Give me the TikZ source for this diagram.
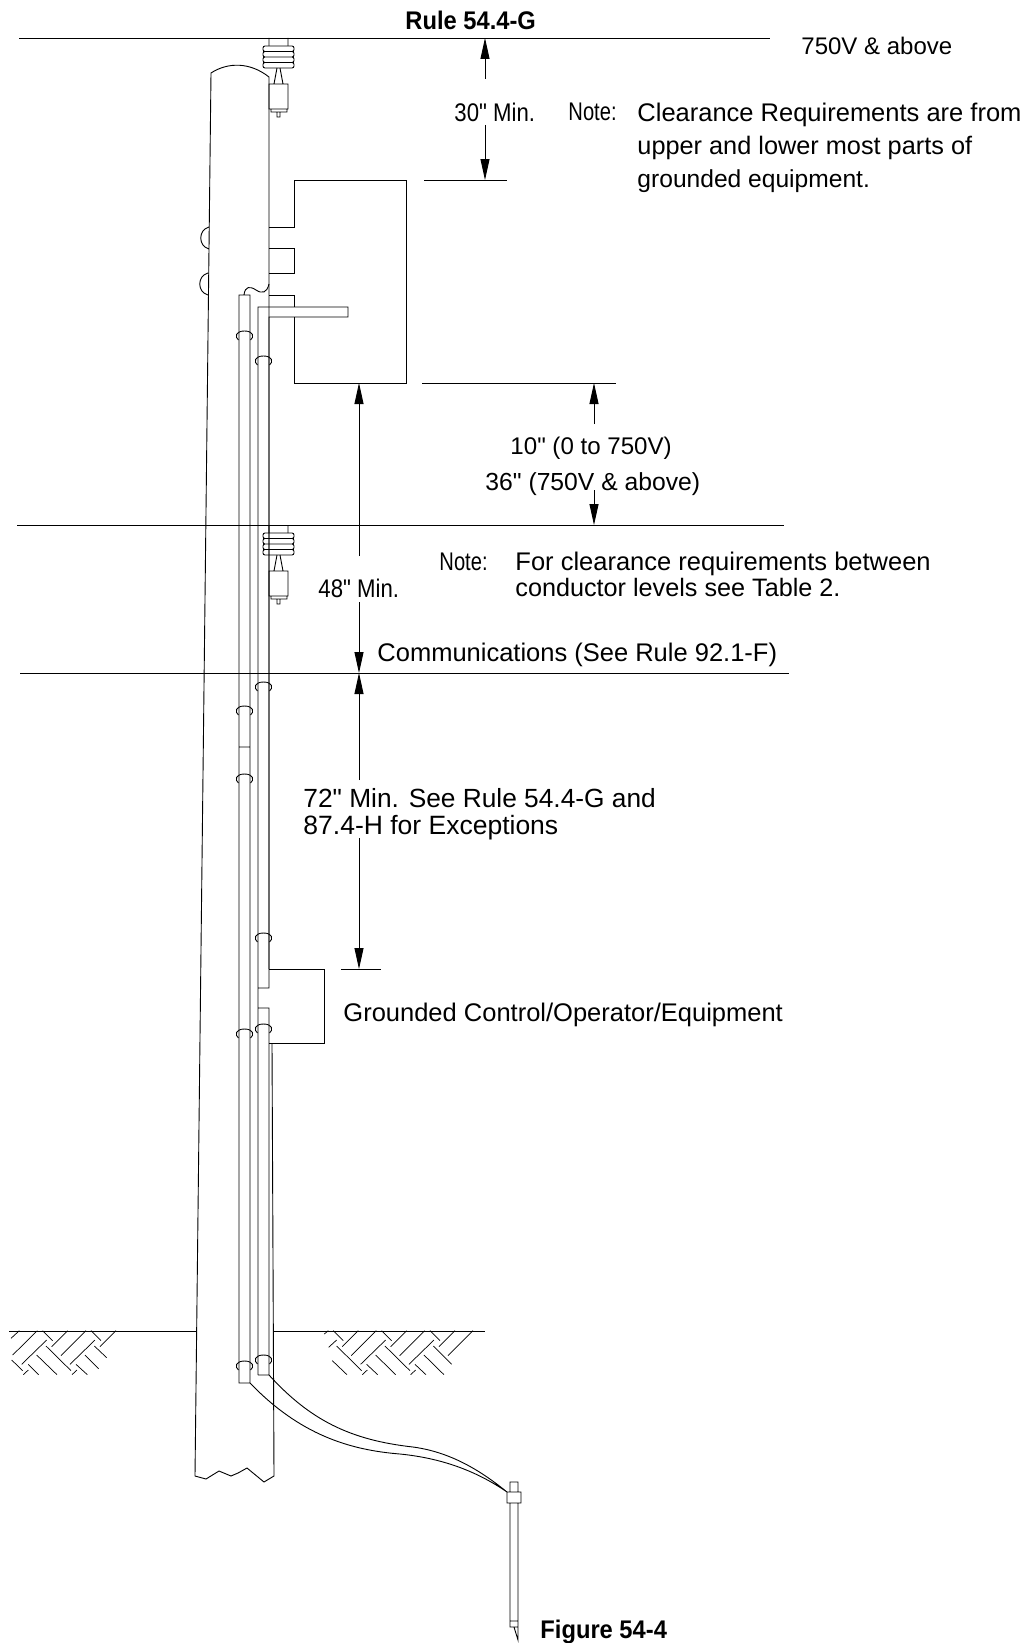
\documentclass[tikz,border=0pt]{standalone}
\usepackage{fontspec}
\setsansfont[Ligatures=TeXOff]{Liberation Sans}
\newfontfamily\narrowfont[FakeStretch=0.87]{Liberation Sans}
\newfontfamily\notefont[FakeStretch=0.79]{Liberation Sans}
\newfontfamily\titlefont[FakeStretch=0.93]{Liberation Sans}
\usetikzlibrary{arrows.meta}

\begin{document}
\begin{tikzpicture}[
        %Environment config
        x=1pt,y=-1pt,
        font=\sffamily,
        line width=.9pt,
        %Environment styles
        LabelCfg/.style={
            anchor=west,
            inner sep=0pt,
            text height=18pt,
            text depth=0pt,
            font=\fontsize{#1pt}{27pt}\sffamily
        },
        LabelCfg/.default=25.5,
        NarrowCfg/.style={
            LabelCfg,
            font=\fontsize{25.5pt}{27pt}\narrowfont
        },
        NoteCfg/.style={
            LabelCfg,
            font=\fontsize{25.5pt}{27pt}\notefont
        },
        BoldCfg/.style={
            LabelCfg,
            font=\fontsize{25.5pt}{27pt}\titlefont\bfseries
        },
        DimCfg/.style={
            -{Triangle[length=21pt,width=9pt]}
        },
        pics/StrapCfg/.style={code={
            \draw (-6,9) .. controls (-10,6) and (-9,0) .. (0,0)
                .. controls (9,0) and (10,6) .. (6,9);
        }},
        pics/InsulatorCfg/.style={code={
            \draw[rounded corners=2pt]
                (-6,8) rectangle (25,13.5)
                (-6,13.5) rectangle (25,19)
                (-6,19) rectangle (25,24.5)
                (-6,24.5) rectangle (25,30);
            \draw
                (0,0) -- (0,8)
                (19,0) -- (19,8)
                (5,46) -- (8,30)
                (11,30) -- (14,46)
                (0,46) rectangle (19,71)
                (2,71) -- (2,74) -- (18,74) -- (18,71)
                (8,74) rectangle (11,79);
        }}
    ]
    %Labels
    \path
        (405,21) node[BoldCfg](RuleLbl){Rule 54.4-G}
        (801,46) node[LabelCfg=24](TopLbl){750V \& above}
        (454,113) node[NarrowCfg](ThirtyLbl){30" Min.}
        (568,112) node[NoteCfg](NoteOneLbl){Note:}
        (637,113) node[LabelCfg](ClearOneLbl){Clearance Requirements are from}
        (637,145) node[LabelCfg=25.3](ClearTwoLbl){upper and lower most parts of}
        (637,178) node[LabelCfg=24.6](ClearThreeLbl){grounded equipment.}
        (510,445) node[LabelCfg=24.1](TenLbl){10" (0 to 750V)}
        (485,481) node[LabelCfg=24.7](ThirtySixLbl){36" (750V \& above)}
        (439,561) node[NoteCfg](NoteTwoLbl){Note:}
        (515,561) node[LabelCfg](ForOneLbl){For clearance requirements between}
        (515,587) node[LabelCfg=25.2](ForTwoLbl){conductor levels see Table 2.}
        (318,588) node[NarrowCfg](FortyEightLbl){48" Min.}
        (377,652) node[LabelCfg](CommLbl){Communications (See Rule 92.1-F)}
        (303,798) node[LabelCfg=26.3](SeventyOneLbl){72" Min. See Rule 54.4-G and}
        (303,825) node[LabelCfg=26.5](SeventyTwoLbl){87.4-H for Exceptions}
        (343,1012) node[LabelCfg](ControlLbl){Grounded Control/Operator/Equipment}
        (540,1629) node[BoldCfg](FigLbl){Figure 54-4};

    %Conductor levels and ticks
    \draw
        (19,38) coordinate (TopL) -- (770,38)
        (17,525) coordinate (MidL) -- (784,525)
        (20,673) coordinate (ComL) -- (789,673)
        (424,180) coordinate (BoxTopL) -- (507,180)
        (422,383) coordinate (BoxBotL) -- (616,383)
        (341,969) coordinate (CtrlL) -- (381,969);

    %Dimension arrows
    \path
        (485,79) coordinate (DimA)
        (485,125) coordinate (DimB)
        (594,424) coordinate (DimC)
        (594,490) coordinate (DimD)
        (359,556) coordinate (DimE)
        (359,602) coordinate (DimF)
        (359,780) coordinate (DimG)
        (359,838) coordinate (DimH);
    \draw[DimCfg] (DimA) -- (DimA |- TopL);
    \draw[DimCfg] (DimB) -- (DimB |- BoxTopL);
    \draw[DimCfg] (DimC) -- (DimC |- BoxBotL);
    \draw[DimCfg] (DimD) -- (DimD |- MidL);
    \draw[DimCfg] (DimE) -- (DimE |- BoxBotL);
    \draw[DimCfg] (DimF) -- (DimF |- ComL);
    \draw[DimCfg] (DimG) -- (DimG |- ComL);
    \draw[DimCfg] (DimH) -- (DimH |- CtrlL);

    %Pole
    \draw
        (269,77) .. controls (250,62) and (228,62) .. (211,73)
        -- (195,1476) -- (206,1479) -- (219,1471) -- (231,1476)
        -- (238,1473) -- (247,1468) -- (264,1482) -- (274,1476)
        -- (272,1043)
        (269,77) -- (269,969)
        (209,227) .. controls (198,230) and (198,246) .. (209,249)
        (208,273) .. controls (197,276) and (197,292) .. (208,295);

    %Equipment box
    \draw
        (269,227) -- (294,227) -- (294,180) -- (406,180) -- (406,383)
        -- (294,383) -- (294,317)
        (269,248) -- (294,248) -- (294,273) -- (269,273)
        (269,295) -- (294,295) -- (294,307);

    %Control box
    \draw
        (269,969) -- (324,969) -- (324,1043) -- (269,1043);

    %Conduits
    \draw
        (239,1383) -- (239,295) -- (250,295) -- (250,1383) -- cycle
        (239,747) -- (250,747)
        (258,1375) -- (258,307) -- (348,307) -- (348,317) -- (269,317)
        -- (269,988) -- (258,988)
        (258,1008) -- (269,1008) -- (269,1375) -- (258,1375)
        (244,295) .. controls (245,286) and (250,286) .. (256,290)
        .. controls (262,294) and (267,293) .. (269,284);

    %Straps
    \path
        (244.5,331) pic{StrapCfg}
        (244.5,706) pic{StrapCfg}
        (244.5,774) pic{StrapCfg}
        (244.5,1029) pic{StrapCfg}
        (244.5,1361) pic{StrapCfg}
        (263.5,356) pic{StrapCfg}
        (263.5,682) pic{StrapCfg}
        (263.5,933) pic{StrapCfg}
        (263.5,1024) pic{StrapCfg}
        (263.5,1355) pic{StrapCfg};

    %Insulators
    \path
        (269,38) pic{InsulatorCfg}
        (269,525) pic{InsulatorCfg};

    %Ground
    \draw
        (9,1331) -- (197,1331)
        (273,1331) -- (485,1331);
    \begin{scope}[shift={(0,1310)},x=.3333pt,y=-.3333pt,line width=.7pt]
        \draw
            (33,85) -- (58,62) (38,135) -- (112,62) (128,62) -- (158,92)
            (155,110) -- (203,62) (183,137) -- (258,62) (273,62) -- (303,92)
            (300,110) -- (348,62) (65,163) -- (140,90) (138,108) -- (213,182)
            (210,163) -- (285,90) (283,108) -- (320,143) (35,150) -- (68,182)
            (70,194) -- (85,180) (85,163) -- (116,194) (110,135) -- (171,194)
            (216,194) -- (231,180) (228,163) -- (262,194) (255,135) -- (296,176);
        \draw
            (973,72) -- (985,62) (1000,62) -- (1030,92) (1027,110) -- (1075,62)
            (1054,137) -- (1129,62) (1145,62) -- (1175,92) (1172,110) -- (1220,62)
            (1199,137) -- (1274,62) (1290,62) -- (1320,92) (1317,110) -- (1365,62)
            (1344,137) -- (1419,62) (986,112) -- (1010,90) (1010,108) -- (1085,182)
            (1082,163) -- (1157,90) (1155,108) -- (1230,182) (1227,163) -- (1302,90)
            (1300,108) -- (1355,163) (997,152) -- (1041,194) (1087,194) -- (1102,180)
            (1100,163) -- (1133,194) (1127,135) -- (1187,194) (1232,194) -- (1247,180)
            (1245,163) -- (1278,194) (1272,135) -- (1332,194);
    \end{scope}

    %Ground rod and wires
    \draw
        (510,1492) -- (510,1482) -- (518,1482) -- (518,1492)
        (507,1492) rectangle (521,1503)
        (510,1503) -- (510,1627) -- (518,1627) -- (518,1503)
        (510,1621) -- (518,1621)
        (514,1627) -- (518,1640) -- (518,1627)
        (250,1383) .. controls (300,1435) and (350,1450) .. (400,1454)
        .. controls (440,1458) and (475,1470) .. (507,1492)
        (269,1375) .. controls (310,1420) and (350,1440) .. (413,1447)
        .. controls (450,1452) and (480,1470) .. (507,1492);

    \useasboundingbox (0,0) rectangle (1029,1643);
\end{tikzpicture}
\end{document}
